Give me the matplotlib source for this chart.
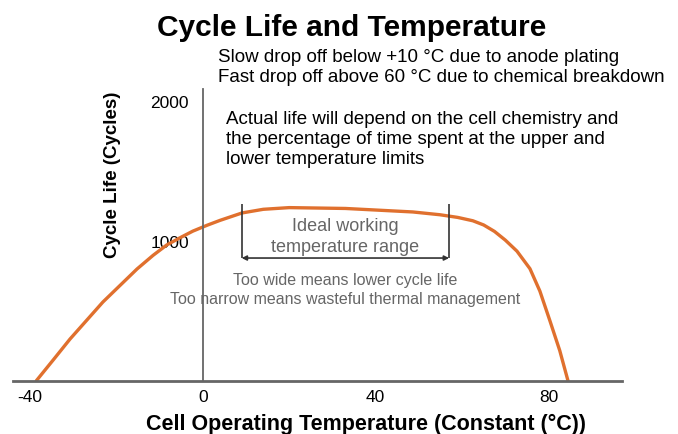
import matplotlib.pyplot as plt

plt.rcParams['font.family'] = ['Liberation Sans', 'DejaVu Sans']
plt.rcParams['axes.unicode_minus'] = False

# Cycle life vs. temperature
temp_c = [-38.5, -34.5, -30.7, -23.1, -15.2, -11.5, -8.3, -5.0, -2.3, 1.0, 4.0,
          9.1, 14.0, 20.0, 33.0, 48.6, 54.9, 59.0, 62.5, 65.0, 67.5, 70.0,
          72.7, 75.7, 78.0, 80.3, 82.6, 84.5]
cycles = [0, 152, 298, 562, 798, 895, 970, 1025, 1068, 1110, 1145,
          1198, 1224, 1236, 1230, 1205, 1185, 1166, 1142, 1112, 1066, 1004,
          925, 800, 640, 430, 215, 0]

x_ticks = [-40, 0, 40, 80]
y_ticks = [1000, 2000]

# ideal working range bracket
range_lo, range_hi = 9, 57
bracket_top, bracket_bottom = 1262, 876

fig = plt.figure(figsize=(6.78, 4.35), dpi=100)
ax = fig.add_axes([0.0192, 0.1225, 0.8982, 0.6706])

ax.plot(temp_c, cycles, color='#E0702E', lw=2.4, solid_capstyle='round',
        solid_joinstyle='round')

ax.set_xlim(-43.9, 97)
ax.set_ylim(0, 2083)

for s in ['top', 'right']:
    ax.spines[s].set_visible(False)
ax.spines['left'].set_position(('data', 0))
ax.spines['left'].set_color('#666666')
ax.spines['left'].set_linewidth(1.3)
ax.spines['bottom'].set_color('#666666')
ax.spines['bottom'].set_linewidth(2)

ax.set_xticks(x_ticks)
ax.set_yticks(y_ticks)
ax.tick_params(axis='x', length=0, pad=6, labelsize=12.5)
ax.tick_params(axis='y', length=0, pad=10, labelsize=12.5)

ax.set_xlabel('Cell Operating Temperature (Constant (°C))', fontsize=15.5,
              fontweight='bold', va='center')
ax.xaxis.set_label_coords(0.58, -0.145)
ax.set_ylabel('Cycle Life (Cycles)', fontsize=13.5, fontweight='bold',
              va='center')
ax.yaxis.set_label_coords(0.164, 0.71)

# bracket for the ideal range
ax.vlines([range_lo, range_hi], bracket_bottom, bracket_top, color='#333333', lw=1.2)
ax.annotate('', xy=(range_hi, bracket_bottom), xytext=(range_lo, bracket_bottom),
            arrowprops=dict(arrowstyle='<|-|>', mutation_scale=7, color='#333333',
                            lw=1.2, shrinkA=0, shrinkB=0))
mid = (range_lo + range_hi) / 2
ax.text(mid, 1110, 'Ideal working', ha='center', va='center', fontsize=13, color='#666666')
ax.text(mid, 958, 'temperature range', ha='center', va='center', fontsize=13, color='#666666')

ax.text(mid, 725, 'Too wide means lower cycle life', ha='center', va='center',
        fontsize=11.5, color='#666666')
ax.text(mid, 585, 'Too narrow means wasteful thermal management', ha='center',
        va='center', fontsize=11.5, color='#666666')

fig.text(352 / 678, 1 - 28 / 435, 'Cycle Life and Temperature', ha='center',
         va='center', fontsize=21.5, fontweight='bold')

fig.text(218 / 678, 1 - 57 / 435, 'Slow drop off below +10 °C due to anode plating',
         ha='left', va='center', fontsize=13.5)
fig.text(218 / 678, 1 - 77 / 435, 'Fast drop off above 60 °C due to chemical breakdown',
         ha='left', va='center', fontsize=13.5)

note = ['Actual life will depend on the cell chemistry and',
        'the percentage of time spent at the upper and',
        'lower temperature limits']
for i, line in enumerate(note):
    fig.text(226 / 678, 1 - (120 + 19.5 * i) / 435, line, ha='left', va='center',
             fontsize=13.5)

fig.savefig('out.png', dpi=100)
